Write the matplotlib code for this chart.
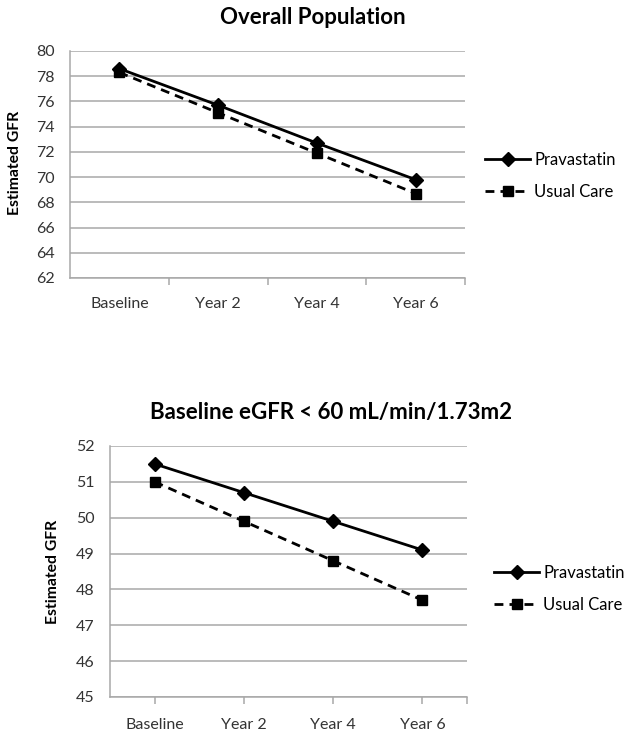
import matplotlib
matplotlib.use("Agg")
import matplotlib.pyplot as plt

plt.rcParams['font.family'] = ['Lato', 'DejaVu Sans']

categories = ['Baseline', 'Year 2', 'Year 4', 'Year 6']

# overall population
overall_prava = [78.6, 75.7, 72.7, 69.8]
overall_usual = [78.3, 75.1, 71.9, 68.7]
overall_yticks = [62, 64, 66, 68, 70, 72, 74, 76, 78, 80]

# baseline eGFR < 60
low_prava = [51.5, 50.7, 49.9, 49.1]
low_usual = [51.0, 49.9, 48.8, 47.7]
low_yticks = [45, 46, 47, 48, 49, 50, 51, 52]

W, H = 629, 737
fig = plt.figure(figsize=(W / 100, H / 100), dpi=100)
grid_col = '#a8a8a8'


def px_axes(left, top, right, bottom):
    return fig.add_axes([left / W, 1 - bottom / H, (right - left) / W, (bottom - top) / H])


def draw_panel(ax, prava, usual, yticks, ticks_on_points, legend_xy, ylab_xy):
    x = list(range(len(categories)))
    ax.plot(x, prava, color='black', lw=2, marker='D', ms=7, label='Pravastatin')
    ax.plot(x, usual, color='black', lw=2, ls=(0, (3.2, 2.2)), marker='s', ms=6.5, label='Usual Care')
    ax.set_xlim(-0.5, 3.5)
    ax.set_ylim(yticks[0], yticks[-1])
    ax.set_yticks(yticks)
    ax.yaxis.grid(True, color=grid_col, lw=1.1)
    ax.set_axisbelow(True)
    for s in ['top', 'right']:
        ax.spines[s].set_visible(False)
    for s in ['left', 'bottom']:
        ax.spines[s].set_color(grid_col)
        ax.spines[s].set_linewidth(1.1)
    ax.tick_params(axis='y', length=0, pad=11, labelsize=11.5, labelcolor='#333333')
    if ticks_on_points:
        ax.set_xticks(x + [3.5])
        ax.set_xticklabels(categories + [''])
    else:
        ax.set_xticks([0.5, 1.5, 2.5, 3.5], minor=False)
        ax.set_xticklabels([])
        ax.set_xticks(x, minor=True)
        ax.set_xticklabels(categories, minor=True)
        ax.tick_params(axis='x', which='minor', length=0, pad=14, labelsize=11.5, labelcolor='#333333')
    ax.tick_params(axis='x', which='major', length=5, width=1.1, color=grid_col, pad=10,
                   labelsize=11.5, labelcolor='#333333')
    ax.set_ylabel('Estimated GFR', fontsize=11.3, fontweight='bold')
    ax.yaxis.set_label_coords(*ylab_xy)
    ax.legend(loc='center left', bbox_to_anchor=(legend_xy[0] / W, 1 - legend_xy[1] / H),
              bbox_transform=fig.transFigure, frameon=False, fontsize=12,
              handlelength=2.7, handletextpad=0.25, labelspacing=0.95, borderpad=0, borderaxespad=0)


ax1 = px_axes(70, 51, 465, 278)
draw_panel(ax1, overall_prava, overall_usual, overall_yticks, False, (485, 176), (-0.122, 0.507))
fig.text(0.497, 1 - 17 / H, 'Overall Population', ha='center', va='center',
         fontsize=16, fontweight='bold')

ax2 = px_axes(110, 446, 467, 697)
draw_panel(ax2, low_prava, low_usual, low_yticks, True, (494, 589), (-0.14, 0.498))
fig.text(0.527, 1 - 412 / H, 'Baseline eGFR < 60 mL/min/1.73m2', ha='center', va='center',
         fontsize=16, fontweight='bold')

fig.savefig('out.png', dpi=100, facecolor='white')
